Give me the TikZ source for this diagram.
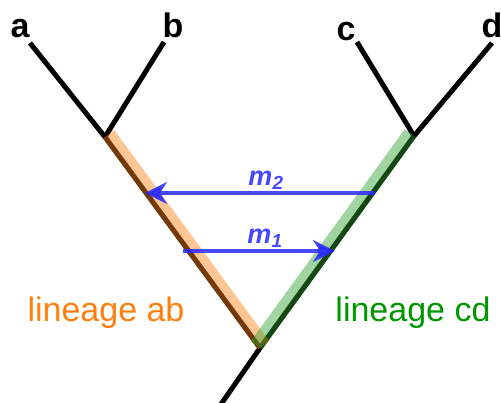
\documentclass[tikz,border=0pt]{standalone}
\usepackage{fontspec}
\setmainfont{Liberation Sans}
\usetikzlibrary{arrows.meta,calc}
\definecolor{lineageab}{RGB}{255,127,14}
\definecolor{lineagecd}{RGB}{44,160,44}
\definecolor{cdtext}{RGB}{0,150,0}
\definecolor{migblue}{RGB}{40,40,255}

\begin{document}
\begin{tikzpicture}[x=1pt,y=-1pt,
    branch/.style={line width=5pt},
    band/.style={line width=14pt,opacity=.45},
    mig/.style={migblue,line width=3.5pt,opacity=.85,
      -{Stealth[length=22pt,width=22pt,inset=7pt]}},
    leaf/.style={font=\fontsize{34}{40}\selectfont\bfseries},
    miglabel/.style={migblue,font=\fontsize{27}{32}\selectfont\bfseries\itshape},
    lineage/.style={font=\fontsize{34}{40}\selectfont}]
  \useasboundingbox (0,0) rectangle (501,403);
  % tips and internal nodes
  \coordinate (a) at (30,43);
  \coordinate (b) at (164,42);
  \coordinate (c) at (357,42);
  \coordinate (d) at (492,43);
  \coordinate (ab) at (105,137);
  \coordinate (cd) at (414,136);
  \coordinate (root) at (260,348);
  \coordinate (base) at (217,410);
  % tree
  \draw [branch] (a) -- (ab) -- (root);
  \draw [branch] (b) -- (ab);
  \draw [branch] (d) -- (cd) -- (root) -- (base);
  \draw [branch] (c) -- (cd);
  % lineages
  \draw [band, lineageab] ($(ab)+(3.6,-2.7)$) -- ($(root)+(3.6,-2.7)$);
  \draw [band, lineagecd] ($(cd)+(-3.6,-2.6)$) -- ($(root)+(-3.6,-2.6)$);
  % migration
  \coordinate (m2tail) at (375,193);
  \coordinate (m2head) at (145,193);
  \coordinate (m1tail) at (183,251);
  \coordinate (m1head) at (335,251);
  \draw [mig] (m2tail) -- node[miglabel, above=-2pt, xshift=6pt] {m\textsubscript{2}} (m2head);
  \draw [mig] (m1tail) -- node[miglabel, above=-2pt, xshift=6pt] {m\textsubscript{1}} (m1head);
  % labels
  \node[leaf, anchor=base] (la) at (20,38) {a};
  \node[leaf, anchor=base] (lb) at (173,38) {b};
  \node[leaf, anchor=base] (lc) at (346,41) {c};
  \node[leaf, anchor=base] (ld) at (492,38) {d};
  \node[lineage, lineageab, anchor=base] (lab) at (106,322) {lineage ab};
  \node[lineage, cdtext, anchor=base] (lcd) at (413,322) {lineage cd};
\end{tikzpicture}
\end{document}
